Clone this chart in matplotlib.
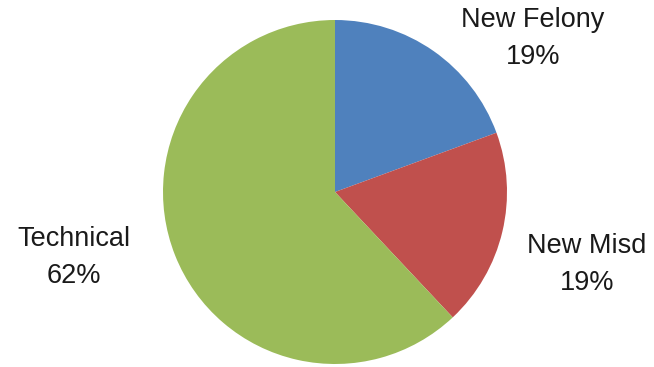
import numpy as np
import matplotlib.pyplot as plt

plt.rcParams["font.family"] = "Liberation Sans"

# >>>>>>>>>>>>>> data
categories = ["New Felony", "New Misd", "Technical"]
shares = [19.4, 18.6, 62.0]
pct_labels = ["19%", "19%", "62%"]
colors = ["#4F81BD", "#C0504D", "#9BBB59"]
# label positions (in pie-radius units)
label_pos = [(1.15, 0.89), (1.465, -0.42), (-1.52, -0.38)]

# >>>>>>>>>>>>>> plotting
fig = plt.figure(figsize=(6.54, 3.67), dpi=100)
ax = fig.add_axes([0, 0, 1, 1])
ax.pie(shares, colors=colors, startangle=90, counterclock=False,
       radius=1.0, wedgeprops=dict(linewidth=0))

for name, pct, (x, y) in zip(categories, pct_labels, label_pos):
    ax.text(x, y, name + "\n" + pct, ha="center", va="center",
            fontsize=19.5, linespacing=1.55, color="#1a1a1a")

ax.set_xlim(-335 / 172, (654 - 335) / 172)
ax.set_ylim(-(367 - 192) / 172, 192 / 172)
ax.set_aspect("auto")
ax.axis("off")

fig.savefig("out.png", dpi=100)
